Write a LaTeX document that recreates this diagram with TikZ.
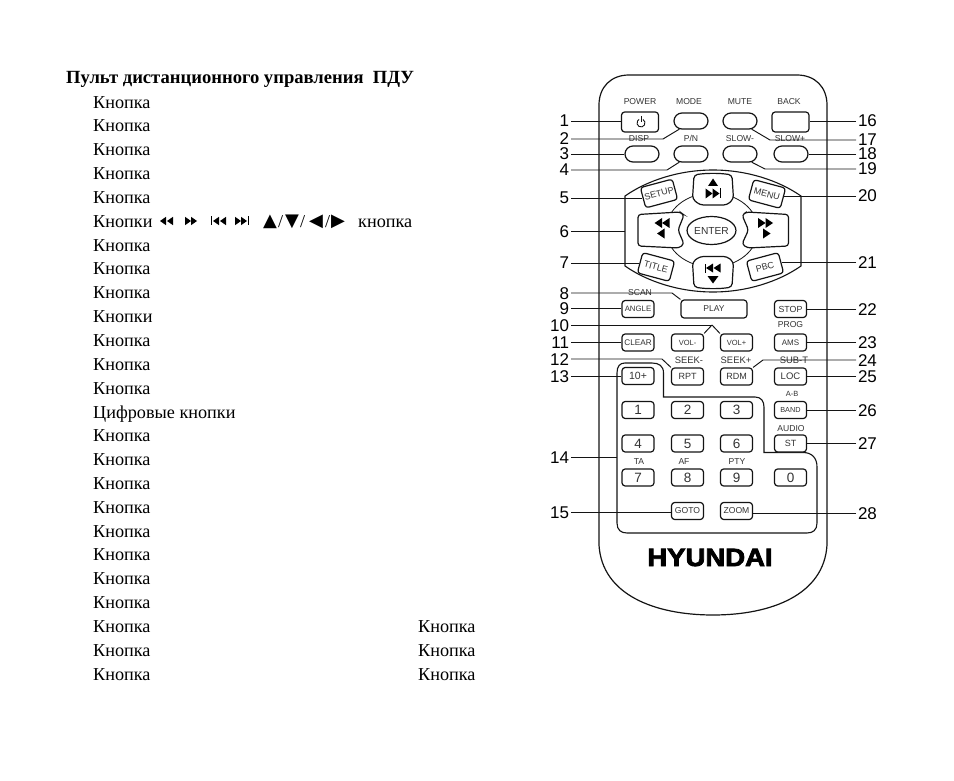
\documentclass[tikz,border=0pt]{standalone}
\usepackage{fontspec}
\usetikzlibrary{shapes.misc,shapes.geometric}
\setmainfont{Liberation Serif}
\newfontfamily\arl{Liberation Sans}
\newfontfamily\djv{DejaVu Sans}
\newfontfamily\hyfont[BoldFont={Liberation Sans Bold},BoldFeatures={FakeBold=3}]{Liberation Sans}
\newcommand{\fs}[1]{\fontsize{#1}{#1}\selectfont}
% triangles: x of the base edge, centre y, width, half height
\newcommand{\rtri}[4]{\fill[black] (#1,#2-#4) -- (#1+#3,#2) -- (#1,#2+#4) -- cycle;}
\newcommand{\ltri}[4]{\fill[black] (#1,#2-#4) -- (#1-#3,#2) -- (#1,#2+#4) -- cycle;}
\newcommand{\utri}[4]{\fill[black] (#1-#4,#2) -- (#1,#2-#3) -- (#1+#4,#2) -- cycle;}
\newcommand{\dtri}[4]{\fill[black] (#1-#4,#2) -- (#1,#2+#3) -- (#1+#4,#2) -- cycle;}
\newcommand{\vbar}[3]{\fill[black] (#1-.5,#2-#3) rectangle (#1+.5,#2+#3);}
\definecolor{ink}{gray}{0.08}
\definecolor{soft}{gray}{0.2}
\tikzset{
  leader/.style={draw=ink,line width=.95pt},
  outl/.style={draw=ink,line width=1.1pt,fill=white},
  btn/.style={draw=ink,line width=1.2pt,fill=white,rectangle,rounded corners=3.2pt,inner sep=0pt,
     minimum width=32pt,minimum height=17pt,text=soft,font=\arl\fs{8}},
  bigbtn/.style={btn,minimum width=37pt,minimum height=20pt},
  oval/.style={draw=ink,line width=1.2pt,fill=white,rounded rectangle,inner sep=0pt,
     minimum width=34pt,minimum height=16pt},
  digit/.style={btn,font=\arl\fs{13.5}},
  tilt/.style={btn,minimum width=33pt,minimum height=21pt,rounded corners=3pt,font=\arl\fs{9}},
  tag/.style={inner sep=0pt,text=soft,font=\arl\fs{8.6}},
  numl/.style={inner sep=0pt,outer sep=2pt,anchor=east,font=\arl\fs{17},text height=12pt,text depth=0pt},
  numr/.style={inner sep=0pt,outer sep=2pt,anchor=west,font=\arl\fs{17},text height=12pt,text depth=0pt},
  bodytext/.style={inner sep=0pt,anchor=base west,font=\fs{18.2}},
  sym/.style={inner sep=0pt,anchor=base west,font=\djv\fs{18}},
}
\begin{document}
\begin{tikzpicture}[x=1pt,y=-1pt]
\useasboundingbox (0,0) rectangle (954,781);
% ---------- left text
\node[bodytext,font=\bfseries\fs{18.6}] (head) at (66,84) {Пульт дистанционного управления\ \ ПДУ};
\foreach \i/\y in {1/108.5,2/131.5,3/155.5,4/179.5,5/203.5,7/251.5,8/274.5,9/298.5,11/346.5,12/370.5,13/394.5,15/441.5,16/465.5,17/489.5,18/513.5,19/537.5,20/560.5,21/584.5,22/608.5,23/632.5,24/656.5,25/680.5}
  {\node[bodytext,name=r\i] at (93,\y) {Кнопка};}
\node[bodytext] (r6) at (93,227.5) {Кнопки};
\node[bodytext] (r10) at (93,322.5) {Кнопки};
\node[bodytext] (r14) at (93,418.5) {Цифровые кнопки};
\node[bodytext] (r6b) at (358,227.5) {кнопка};
\node[bodytext] (c1) at (418,632.5) {Кнопка};
\node[bodytext] (c2) at (418,656.5) {Кнопка};
\node[bodytext] (c3) at (418,680.5) {Кнопка};
% media icons of row 6
\ltri{166}{221}{6}{4.2}\ltri{173}{221}{6}{4.2}
\rtri{185}{221}{6}{4.2}\rtri{191}{221}{6}{4.2}
\vbar{211.5}{221}{4.5}\ltri{219}{221}{6}{4.2}\ltri{226}{221}{6}{4.2}
\rtri{235}{221}{6}{4.2}\rtri{241}{221}{6}{4.2}\vbar{248}{221}{4.5}
\node[sym] (s1) at (263,226) {▲};
\node[bodytext] (sl1) at (278,227.5) {/};
\node[sym] (s2) at (285,226) {▼};
\node[bodytext] (sl2) at (300,227.5) {/};
\node[sym] (s3) at (309,226) {◀};
\node[bodytext] (sl3) at (325,227.5) {/};
\node[sym] (s4) at (331,226) {▶};
% ---------- remote body
\draw[outl,line width=1.2pt] (599,545) -- (599,105) .. controls (599,87) and (611,75) .. (629,75)
  -- (797,75) .. controls (815,75) and (827,87) .. (827,105) -- (827,545)
  .. controls (824,595) and (771,615) .. (713,615) .. controls (655,615) and (602,595) .. (599,545) -- cycle;
% ---------- number field
\draw[outl] (617,373) .. controls (617,366) and (620,363) .. (625,363) -- (652,363)
  .. controls (659,363) and (663.5,366) .. (663.5,373) -- (663.5,397) -- (755,397)
  .. controls (761,397) and (764,401) .. (764,407) -- (764,452.5) -- (803,452.5)
  .. controls (812,452.5) and (817,458) .. (817,467) -- (817,523)
  .. controls (817,530) and (813,533) .. (807,533) -- (627,533)
  .. controls (621,533) and (617,530) .. (617,523) -- cycle;
% ---------- direction pad
\draw[outl] (625,196) .. controls (648,180) and (680,170) .. (713,170)
  .. controls (746,170) and (778,180) .. (801,196) -- (801,266)
  .. controls (778,282) and (746,292) .. (713,292) .. controls (680,292) and (648,282) .. (625,266) -- cycle;
\draw[leader,line width=.8pt] (712,230) ellipse [x radius=46,y radius=37];
\draw[outl,line width=1.2pt,rounded corners=3.5pt] (694,175) .. controls (706,173) and (720,173) .. (732,175) -- (733.5,199) -- (727,205) -- (700,205) -- (692.5,199) -- cycle;
\draw[outl,line width=1.2pt,rounded corners=3.5pt] (694,287) .. controls (706,289) and (720,289) .. (732,287) -- (733.5,262) -- (727,256.5) -- (700,256.5) -- (692.5,262) -- cycle;
\draw[outl,line width=1.2pt,rounded corners=3pt] (638,214.5) -- (680,212) -- (684,215) -- (678,230) -- (684,244) -- (679,248) -- (638,246) -- cycle;
\draw[outl,line width=1.2pt,rounded corners=3pt] (788.5,214.5) -- (746.5,212) -- (742,215) -- (748.5,230) -- (742,244) -- (747.5,248) -- (788.5,246) -- cycle;
\node[draw=ink,line width=1.2pt,fill=white,ellipse,inner sep=0pt,minimum width=47pt,minimum height=28pt,text=soft,font=\arl\fs{10.2}] (enter) at (711.5,230.5) {ENTER};
% pad icons
\utri{713}{186}{7.5}{5}
\rtri{705.5}{193.5}{7}{5}\rtri{712.5}{193.5}{7}{5}\vbar{720.5}{193.5}{5}
\ltri{662}{223}{7.5}{5}\ltri{669.5}{223}{7.5}{5}\ltri{664.5}{233.5}{7.5}{5}
\rtri{758}{223}{7.5}{5}\rtri{765.5}{223}{7.5}{5}\rtri{763}{233.5}{7.5}{5}
\vbar{705}{268}{4.5}\ltri{713}{268}{7}{4.5}\ltri{720.5}{268}{7}{4.5}
\dtri{713}{276}{7.5}{5.5}
% ---------- buttons
\node[bigbtn] (power) at (640,122) {};
\draw[ink,line width=.9pt] (643,119.5) arc[start angle=-60,end angle=240,radius=4];
\draw[ink,line width=.9pt] (641,116.5) -- (641,122.5);
\node[oval] (mode) at (691,121) {};
\node[oval] (mute) at (740,121) {};
\node[bigbtn] (back) at (790.5,122) {};
\node[oval] (disp) at (642,154) {};
\node[oval] (pn) at (691,154) {};
\node[oval] (slowm) at (740,154) {};
\node[oval] (slowp) at (791,154) {};
\node[tilt,rotate=15] (setup) at (659,193.5) {SETUP};
\node[tilt,rotate=-15] (menu) at (767,194) {MENU};
\node[tilt,rotate=-15] (title) at (656,267) {TITLE};
\node[tilt,rotate=15] (pbc) at (765,267) {PBC};
\node[btn,font=\arl\fs{7.8}] (angle) at (638,309) {ANGLE};
\node[btn,minimum width=66pt,minimum height=18pt,font=\arl\fs{8.5}] (play) at (714,309) {PLAY};
\node[btn,font=\arl\fs{8.8}] (stop) at (790.5,309) {STOP};
\node[btn,font=\arl\fs{8.2}] (clear) at (638,342.5) {CLEAR};
\node[btn,font=\arl\fs{7.5}] (volm) at (687.5,342.5) {VOL-};
\node[btn,font=\arl\fs{7.5}] (volp) at (736.5,342.5) {VOL+};
\node[btn] (ams) at (790.5,342.5) {AMS};
\node[btn,font=\arl\fs{10.5}] (ten) at (638,376) {10+};
\node[btn,font=\arl\fs{9}] (rpt) at (687.5,376.5) {RPT};
\node[btn,font=\arl\fs{9}] (rdm) at (736.5,376.5) {RDM};
\node[btn,font=\arl\fs{9.5}] (loc) at (790.5,376.5) {LOC};
\node[digit] (d1) at (638,410) {1};
\node[digit] (d2) at (687.5,410) {2};
\node[digit] (d3) at (736.5,410) {3};
\node[btn,font=\arl\fs{7.3}] (band) at (790.5,410) {BAND};
\node[digit] (d4) at (638,443.5) {4};
\node[digit] (d5) at (687.5,443.5) {5};
\node[digit] (d6) at (736.5,443.5) {6};
\node[btn,font=\arl\fs{9}] (st) at (790.5,443.5) {ST};
\node[digit] (d7) at (638,477.5) {7};
\node[digit] (d8) at (687.5,477.5) {8};
\node[digit] (d9) at (736.5,477.5) {9};
\node[digit] (d0) at (790.5,477.5) {0};
\node[btn,font=\arl\fs{8.6}] (goto) at (687.5,511) {GOTO};
\node[btn,font=\arl\fs{8.6}] (zoom) at (736.5,511) {ZOOM};
% ---------- captions
\node[tag] (cpower) at (640,101.5) {POWER};
\node[tag] (cmode) at (689,101.5) {MODE};
\node[tag] (cmute) at (740,101.5) {MUTE};
\node[tag] (cback) at (789,101.5) {BACK};
\node[tag] (cdisp) at (639,138.5) {DISP};
\node[tag] (cpn) at (691,138.5) {P/N};
\node[tag] (cslowm) at (740,139) {SLOW-};
\node[tag] (cslowp) at (790,139) {SLOW+};
\node[tag] (cscan) at (640,293) {SCAN};
\node[tag] (cprog) at (790.5,325) {PROG};
\node[tag,font=\arl\fs{9.4}] (cseekm) at (689,360) {SEEK-};
\node[tag,font=\arl\fs{9.4}] (cseekp) at (736,360) {SEEK+};
\node[tag,font=\arl\fs{9.4}] (csubt) at (794,360) {SUB-T};
\node[tag,font=\arl\fs{7.5}] (cab) at (792,394) {A-B};
\node[tag] (caudio) at (791,429) {AUDIO};
\node[tag] (cta) at (639,462) {TA};
\node[tag] (caf) at (684,462) {AF};
\node[tag] (cpty) at (737,462) {PTY};
% ---------- logo
\node[inner sep=0pt,xscale=1.1,font=\hyfont\bfseries\fs{25},text height=18pt,text depth=0pt] (logo) at (710,557) {HYUNDAI};
% ---------- number labels
\foreach \n/\y in {1/121,2/139,3/154,4/170,5/198,6/231,7/263,8/293,9/308,10/325,11/342,12/359,13/376,14/457,15/512}
  {\node[numl,name=L\n] at (571,\y) {\n};}
\foreach \n/\y in {16/121,17/140,18/154,19/169,20/196,21/262,22/309,23/342,24/360,25/376,26/410,27/443.5,28/513}
  {\node[numr,name=L\n] at (856,\y) {\n};}
\coordinate (padedge) at (625,231);
\coordinate (fieldedge) at (617,457);
\coordinate (volfork) at (712,325);
% ---------- leaders
\draw[leader] (L1.east) -- (L1.east -| power.west);
\draw[leader] (L2.east) -- (663,139) -- (mode.215);
\draw[leader] (L3.east) -- (disp.west);
\draw[leader] (L4.east) -- (667,170) -- (pn.215);
\draw[leader] (L5.east) -- (L5.east -| setup.west);
\draw[leader] (L6.east) -- (padedge);
\draw[leader] (L7.east) -- (L7.east -| title.west);
\draw[leader] (L8.east) -- (672,293) -- (play.north west);
\draw[leader] (L9.east) -- (L9.east -| angle.west);
\draw[leader] (L10.east) -- (volfork);
\draw[leader] (volfork) -- (volm.north east);
\draw[leader] (volfork) -- (volp.north west);
\draw[leader] (L11.east) -- (L11.east -| clear.west);
\draw[leader] (L12.east) -- (662,359) -- (rpt.north west);
\draw[leader] (L13.east) -- (L13.east -| ten.west);
\draw[leader] (L14.east) -- (fieldedge);
\draw[leader] (L15.east) -- (L15.east -| goto.west);
\draw[leader] (L16.west) -- (L16.west -| back.east);
\draw[leader] (L17.west) -- (770,140) -- (mute.-35);
\draw[leader] (L18.west) -- (slowp.east);
\draw[leader] (L19.west) -- (765,169) -- (slowm.-35);
\draw[leader] (L20.west) -- (L20.west -| menu.east);
\draw[leader] (L21.west) -- (L21.west -| pbc.east);
\draw[leader] (L22.west) -- (L22.west -| stop.east);
\draw[leader] (L23.west) -- (L23.west -| ams.east);
\draw[leader] (L24.west) -- (763,360) -- (rdm.north east);
\draw[leader] (L25.west) -- (L25.west -| loc.east);
\draw[leader] (L26.west) -- (L26.west -| band.east);
\draw[leader] (L27.west) -- (L27.west -| st.east);
\draw[leader] (L28.west) -- (L28.west -| zoom.east);
\end{tikzpicture}
\end{document}
